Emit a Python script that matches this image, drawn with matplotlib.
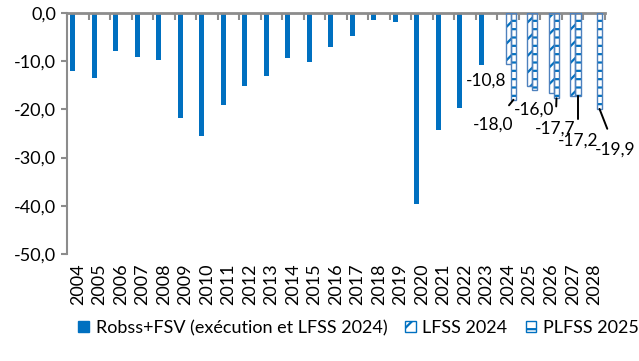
import numpy as np
import matplotlib.pyplot as plt
from matplotlib.ticker import FuncFormatter, MultipleLocator
from matplotlib.patches import Patch

plt.rcParams['font.family'] = ['Lato', 'DejaVu Sans']
plt.rcParams['hatch.linewidth'] = 1.6

# Data (Md EUR)
years = [str(y) for y in range(2004, 2029)]
robss_fsv = [-12.0, -13.5, -7.9, -9.1, -9.8, -21.8, -25.6, -19.1, -15.2, -13.1,
             -9.3, -10.2, -7.1, -4.7, -1.5, -1.9, -39.7, -24.3, -19.8, -10.8,
             np.nan, np.nan, np.nan, np.nan, np.nan]
lfss_2024 = [np.nan] * 20 + [-10.5, -15.2, -16.5, -17.2, np.nan]
plfss_2025 = [np.nan] * 20 + [-18.0, -16.0, -17.7, -17.2, -19.9]

BLUE = '#0070C0'
EDGE = '#4F81BD'
GREY = '#8C8C8C'

fig = plt.figure(figsize=(6.39, 3.61), dpi=100)
ax = fig.add_axes([0.1049, 0.2964, 0.8419, 0.6676])

x = np.arange(len(years))
w = 0.235
step = 0.245
ax.bar(x - step, robss_fsv, w, color=BLUE, linewidth=0, zorder=2)
ax.bar(x, lfss_2024, w, color='white', edgecolor=BLUE, hatch='//', linewidth=0, zorder=2)
ax.bar(x, lfss_2024, w, color='none', edgecolor=EDGE, linewidth=1.0, zorder=3)
ax.bar(x + step, plfss_2025, w, color='white', edgecolor=BLUE, hatch='--', linewidth=0, zorder=2)
ax.bar(x + step, plfss_2025, w, color='none', edgecolor=EDGE, linewidth=1.0, zorder=3)

ax.set_xlim(-0.5, len(years) - 0.5)
ax.set_ylim(-50, 0)

# axes styling
for s in ['right', 'bottom']:
    ax.spines[s].set_visible(False)
ax.spines['top'].set_color(GREY)
ax.spines['top'].set_linewidth(2)
ax.spines['left'].set_color(GREY)
ax.spines['left'].set_linewidth(1.5)

ax.yaxis.set_major_locator(MultipleLocator(10))
ax.yaxis.set_major_formatter(FuncFormatter(lambda v, p: f"{v:.1f}".replace('.', ',')))
ax.tick_params(axis='y', direction='out', length=4, width=1.5, color=GREY,
               labelsize=13, pad=4)

ax.set_xticks(x)
ax.set_xticklabels(years, rotation=90, fontsize=13, va='top')
ax.set_xticks(np.arange(len(years) + 1) - 0.5, minor=True)
ax.tick_params(axis='x', which='major', length=0, pad=7)
ax.tick_params(axis='x', which='minor', bottom=False, top=True, direction='in',
               length=5, width=1.5, color=GREY)

# data labels (offsets in pixels from the bar end)
def label(xi, val, dx, dy, line=True, ha='center'):
    txt = f"{val:.1f}".replace('.', ',')
    props = dict(arrowstyle='-', color='black', lw=1.4, shrinkA=8, shrinkB=0) if line else None
    ax.annotate(txt, xy=(xi, val), xytext=(dx, dy), textcoords='offset pixels',
                ha=ha, va='center', fontsize=12.5, arrowprops=props, zorder=5)

label(x[19] - step, robss_fsv[19], 5, -16, line=False)
label(x[20] + step, plfss_2025[20], -20, -25)
label(x[21] + step, plfss_2025[21], -1, -20, line=False)
label(x[22] + step, plfss_2025[22], -1, -30)
label(x[23] + step, plfss_2025[23], 0, -45)
label(x[24] + step, plfss_2025[24], 16, -41)

handles = [
    Patch(facecolor=BLUE, edgecolor=BLUE, label='Robss+FSV (exécution et LFSS 2024)'),
    Patch(facecolor='white', edgecolor=BLUE, hatch='//', label='LFSS 2024'),
    Patch(facecolor='white', edgecolor=BLUE, hatch='--', label='PLFSS 2025'),
]
fig.legend(handles=handles, loc='center', bbox_to_anchor=(0.561, 0.0914), ncol=3,
           frameon=False, fontsize=13.0, handlelength=0.6, handleheight=0.6,
           handletextpad=0.35, columnspacing=1.0, borderaxespad=0)

fig.savefig('out.png', dpi=100)
